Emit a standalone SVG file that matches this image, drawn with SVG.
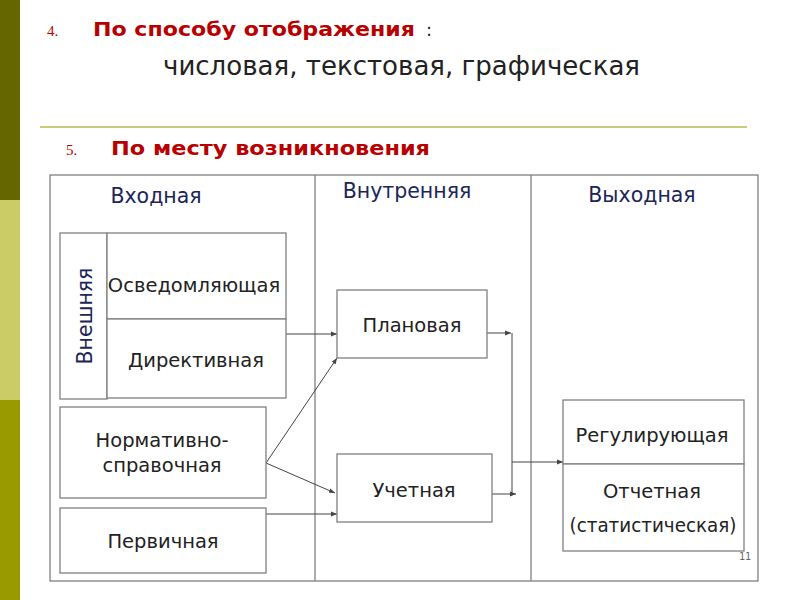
<svg xmlns="http://www.w3.org/2000/svg" width="800" height="600" viewBox="0 0 800 600">
<style>
.box{fill:#fff;stroke:#808080;stroke-width:1.3}
.div{stroke:#808080;stroke-width:1.3;fill:none}
.t{font-family:"DejaVu Sans",Verdana,sans-serif;font-size:19.5px;fill:#222;text-anchor:middle}
.h{font-family:"DejaVu Sans",Verdana,sans-serif;font-size:20.5px;fill:#1c2557;text-anchor:middle}
.red{font-family:"DejaVu Sans",Verdana,sans-serif;font-size:20px;font-weight:bold;fill:#b80000}
.num{font-family:"Liberation Serif","Times New Roman",serif;font-size:15px;fill:#b80000}
.c{stroke:#444;stroke-width:1;fill:none;marker-end:url(#ah)}
.l{stroke:#444;stroke-width:1;fill:none}
</style>
<defs>
<marker id="ah" viewBox="0 0 10 10" refX="10" refY="5" markerWidth="6" markerHeight="6" markerUnits="userSpaceOnUse" orient="auto">
<path d="M0,1 L10,5 L0,9 z" fill="#444"/>
</marker>
</defs>
<rect width="800" height="600" fill="#fff"/>
<g id="sidebar">
<rect x="0" y="0" width="20" height="200" fill="#666600"/>
<rect x="0" y="200" width="20" height="200" fill="#cccc66"/>
<rect x="0" y="400" width="20" height="200" fill="#999900"/>
</g>
<g id="heading">
<text class="num" x="47" y="36">4.</text>
<text class="red" x="93" y="36" textLength="322" lengthAdjust="spacingAndGlyphs">По способу отображения</text>
<text x="426" y="36" font-family="DejaVu Sans,Verdana,sans-serif" font-size="18" fill="#222">:</text>
<text x="163" y="75" font-family="DejaVu Sans,Verdana,sans-serif" font-size="26" fill="#222" textLength="477" lengthAdjust="spacingAndGlyphs">числовая, текстовая, графическая</text>
<line x1="40" y1="127" x2="747" y2="127" stroke="#b8b84a" stroke-width="1.5"/>
<text class="num" x="66" y="155">5.</text>
<text class="red" x="111" y="155" textLength="319" lengthAdjust="spacingAndGlyphs">По месту возникновения</text>
</g>
<g id="table">
<rect class="box" x="50" y="175" width="708" height="406"/>
<line class="div" x1="315" y1="175" x2="315" y2="581"/>
<line class="div" x1="531" y1="175" x2="531" y2="581"/>
<text class="h" x="156" y="203">Входная</text>
<text class="h" x="407" y="198">Внутренняя</text>
<text class="h" x="642" y="202">Выходная</text>
</g>
<g id="connectors">
<line class="c" x1="286" y1="334" x2="337" y2="334"/>
<line class="c" x1="266" y1="463" x2="337" y2="358"/>
<line class="c" x1="266" y1="463" x2="335" y2="493"/>
<line class="c" x1="266" y1="514" x2="337" y2="514"/>
<line class="c" x1="487" y1="333" x2="511" y2="333"/>
<line class="l" x1="512" y1="333" x2="512" y2="494"/>
<line class="c" x1="492" y1="494" x2="516" y2="494"/>
<line class="c" x1="512" y1="462" x2="563" y2="462"/>
</g>
<g id="vneshnyaya">
<rect class="box" x="60" y="233" width="47" height="166"/>
<text class="h" transform="translate(92,316) rotate(-90)">Внешняя</text>
</g>
<g id="osvedomlyayuschaya">
<rect class="box" x="107" y="233" width="179" height="86"/>
<text class="t" x="194" y="292">Осведомляющая</text>
</g>
<g id="direktivnaya">
<rect class="box" x="107" y="319" width="179" height="79"/>
<text class="t" x="196" y="367">Директивная</text>
</g>
<g id="normativno">
<rect class="box" x="60" y="407" width="206" height="91"/>
<text class="t" x="162" y="447">Нормативно-</text>
<text class="t" x="162" y="472">справочная</text>
</g>
<g id="pervichnaya">
<rect class="box" x="60" y="508" width="206" height="65"/>
<text class="t" x="163" y="548">Первичная</text>
</g>
<g id="planovaya">
<rect class="box" x="337" y="290" width="150" height="68"/>
<text class="t" x="412" y="332">Плановая</text>
</g>
<g id="uchetnaya">
<rect class="box" x="337" y="454" width="155" height="68"/>
<text class="t" x="414" y="497">Учетная</text>
</g>
<g id="reguliruyuschaya">
<rect class="box" x="563" y="400" width="181" height="64"/>
<text class="t" x="652" y="442">Регулирующая</text>
</g>
<g id="otchetnaya">
<rect class="box" x="563" y="464" width="181" height="87"/>
<text class="t" x="652" y="498">Отчетная</text>
<text class="t" x="653" y="532" textLength="167" lengthAdjust="spacingAndGlyphs">(статистическая)</text>
</g>
<text x="751" y="560" font-family="DejaVu Sans Mono,monospace" font-size="10" fill="#666" text-anchor="end">11</text>
</svg>
